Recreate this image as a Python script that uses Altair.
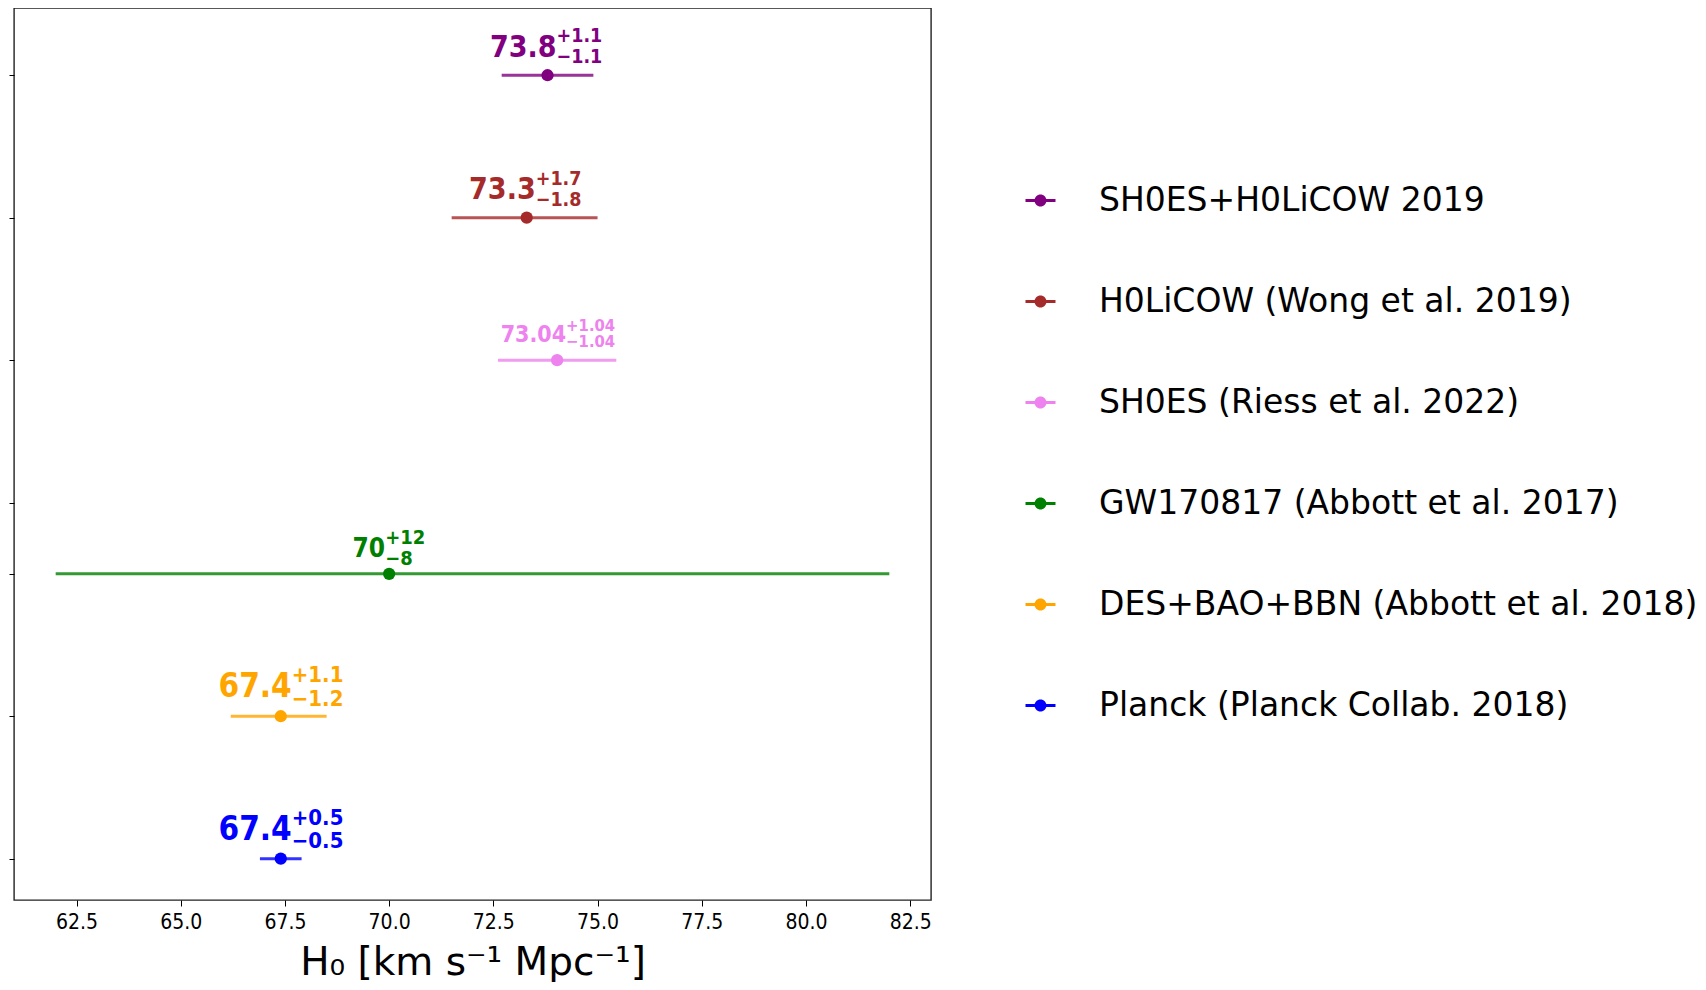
import altair as alt
import pandas as pd

names = ["SH0ES+H0LiCOW 2019", "H0LiCOW (Wong et al. 2019)", "SH0ES (Riess et al. 2022)",
         "GW170817 (Abbott et al. 2017)", "DES+BAO+BBN (Abbott et al. 2018)", "Planck (Planck Collab. 2018)"]
colors = ["#800080", "#a52a2a", "#ee82ee", "#008000", "#ffa500", "#0000ff"]
values = [73.8, 73.3, 74.03, 70.0, 67.4, 67.4]
err_plus = [1.1, 1.7, 1.42, 12.0, 1.1, 0.5]
err_minus = [1.1, 1.8, 1.42, 8.0, 1.2, 0.5]
rows = [5.5, 4.5, 3.5, 2.0, 1.0, 0.0]
y_ticks = [0, 1, 2, 2.5, 3.5, 4.5, 5.5]
x_ticks = [62.5, 65.0, 67.5, 70.0, 72.5, 75.0, 77.5, 80.0, 82.5]
label_main = ["73.8", "73.3", "73.04", "70", "67.4", "67.4"]
label_sup = ["+1.1", "+1.7", "+1.04", "+12", "+1.1", "+0.5"]
label_sub = ["\u22121.1", "\u22121.8", "\u22121.04", "\u22128", "\u22121.2", "\u22120.5"]

# label styling (pixels)
main_size = [30, 30, 23, 26, 33, 33]
script_size = [19.5, 19.5, 16.5, 20, 22, 22]
split_dx = [9, 9, 9, -4, 11, 11]
main_dy = [-18, -19, -18, -17, -19, -19]
sup_dy = [-33, -33, -29, -30, -34, -34]
sub_dy = [-12, -12, -13, -9, -10, -11]

df = pd.DataFrame({
    "name": names, "value": values, "row": rows,
    "lo": [v - m for v, m in zip(values, err_minus)],
    "hi": [v + p for v, p in zip(values, err_plus)],
    "main": label_main, "sup": label_sup, "sub": label_sub,
})

XDOM = [61, 83]
YDOM = [-0.29, 5.972]
COND = "DejaVu Sans Condensed, DejaVu Sans"

xs = alt.Scale(domain=XDOM, nice=False, zero=False)
ys = alt.Scale(domain=YDOM, nice=False, zero=False)
cscale = alt.Scale(domain=names, range=colors)

xaxis = alt.Axis(values=x_ticks, format=".1f", grid=False, domain=False, tickSize=6,
                 tickColor="#000", labelColor="#000", labelFont=COND, labelFontSize=21,
                 labelPadding=5, labelFlush=False,
                 title="H\u2080 [km s\u207b\u00b9 Mpc\u207b\u00b9]", titleFont="DejaVu Sans",
                 titleFontSize=39, titleFontWeight="normal", titleColor="#000", titlePadding=11)
yaxis = alt.Axis(values=y_ticks, labels=False, grid=False, domain=False, tickSize=5,
                 tickColor="#000", title=None)

legend_path = ("M-1,-0.1H1V0.1H-1Z"
               "M0.4,0A0.4,0.4 0 1,1 -0.4,0A0.4,0.4 0 1,1 0.4,0Z")
legend = alt.Legend(title=None, orient="none", legendX=1010, legendY=176,
                    symbolType=legend_path, symbolSize=900, symbolStrokeWidth=0,
                    labelFont="DejaVu Sans", labelFontSize=33,
                    labelColor="#000", labelOffset=42, rowPadding=67,
                    padding=0, labelLimit=800, symbolOpacity=1)

base = alt.Chart(df)

rules = base.mark_rule(strokeWidth=3, opacity=0.8).encode(
    x=alt.X("lo:Q", scale=xs, axis=xaxis),
    x2="hi:Q",
    y=alt.Y("row:Q", scale=ys, axis=yaxis),
    color=alt.Color("name:N", scale=cscale, sort=names, legend=legend),
)

points = base.mark_point(filled=True, size=150, opacity=1, strokeWidth=0).encode(
    x=alt.X("value:Q", scale=xs),
    y=alt.Y("row:Q", scale=ys),
    color=alt.Color("name:N", scale=cscale, sort=names, legend=legend),
)

layers = [points, rules]
for i, n in enumerate(names):
    sub_base = base.transform_filter(alt.datum.name == n)
    layers.append(sub_base.mark_text(align="right", baseline="alphabetic", dx=split_dx[i],
                                     dy=main_dy[i], fontSize=main_size[i], fontWeight="bold",
                                     font=COND, color=colors[i]).encode(
        x=alt.X("value:Q", scale=xs), y=alt.Y("row:Q", scale=ys), text="main:N"))
    layers.append(sub_base.mark_text(align="left", baseline="alphabetic", dx=split_dx[i],
                                     dy=sup_dy[i], fontSize=script_size[i], fontWeight="bold",
                                     font=COND, color=colors[i]).encode(
        x=alt.X("value:Q", scale=xs), y=alt.Y("row:Q", scale=ys), text="sup:N"))
    layers.append(sub_base.mark_text(align="left", baseline="alphabetic", dx=split_dx[i],
                                     dy=sub_dy[i], fontSize=script_size[i], fontWeight="bold",
                                     font=COND, color=colors[i]).encode(
        x=alt.X("value:Q", scale=xs), y=alt.Y("row:Q", scale=ys), text="sub:N"))

chart = alt.layer(*layers).properties(
    width=917, height=892, padding=0, background="white"
).configure_view(stroke="#222", strokeWidth=1.4)

chart.save("out.html", embed_options={"renderer": "svg", "actions": False})
